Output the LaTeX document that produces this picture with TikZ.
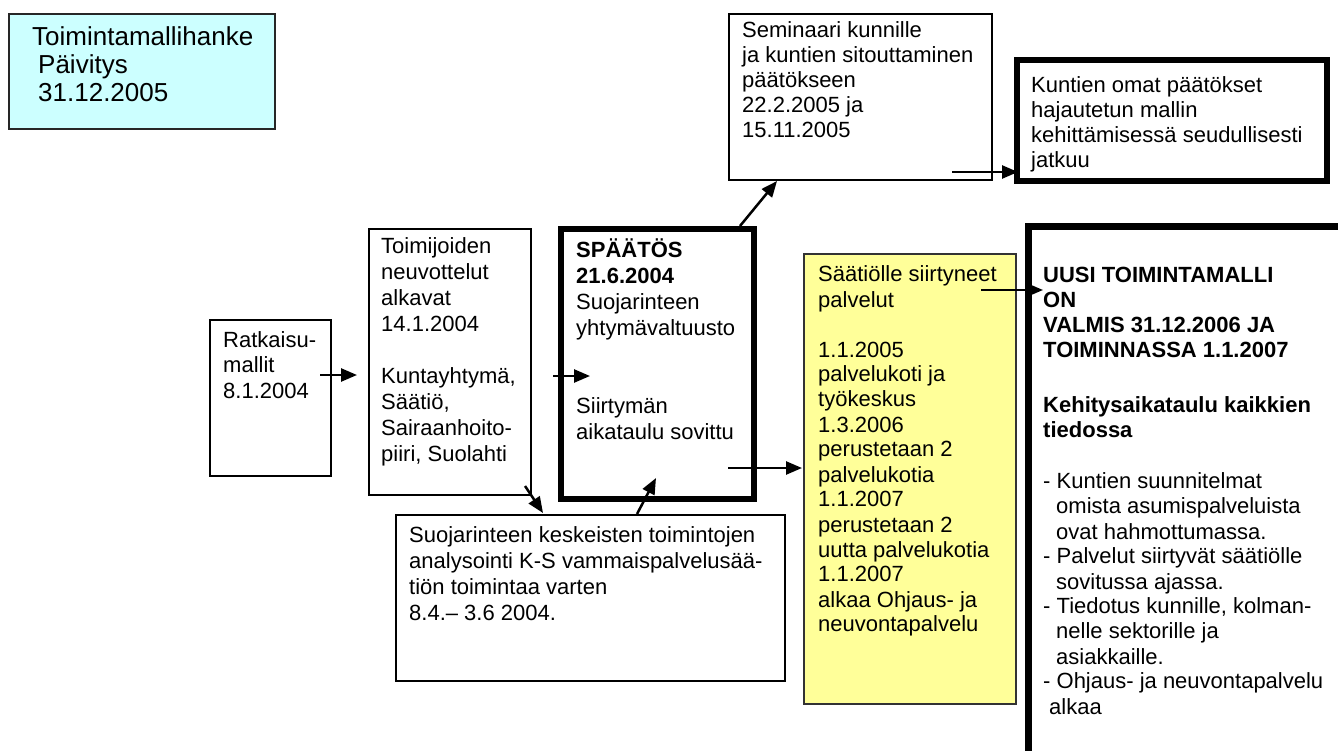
\documentclass[tikz,border=0pt]{standalone}
\usepackage{fontspec}
\setmainfont{Liberation Sans}
\usetikzlibrary{arrows.meta}
\definecolor{cyanbox}{HTML}{CCFFFF}
\definecolor{yellowbox}{HTML}{FFFF99}
\begin{document}
\begin{tikzpicture}[x=1pt,y=-1pt,
  box/.style={draw=black, line width=1.5pt, anchor=north west, inner sep=0pt, outer sep=0pt},
  heavybox/.style={draw=black, line width=6pt, anchor=north west, inner sep=0pt, outer sep=0pt},
  txt/.style={anchor=base west, inner sep=0pt, font=\fontsize{22}{25}\selectfont},
  arr/.style={line width=2.5pt, -{Triangle[length=16pt,width=13pt]}}]
\useasboundingbox (0,0) rectangle (1338,751);
\fill[white] (0,0) rectangle (1338,751);
\clip (0,0) rectangle (1338,751);

% title box
\node[box, fill=cyanbox, draw=black!85, minimum width=266pt, minimum height=115pt] (title) at (9,14) {};
\node[anchor=base west, inner sep=0pt, font=\fontsize{26}{28}\selectfont] (titleT) at (32,46)
  {\parbox[t]{250pt}{Toimintamallihanke\\\hspace*{6pt}Päivitys\\\hspace*{6pt}31.12.2005}};

% Ratkaisumallit
\node[box, minimum width=121pt, minimum height=156pt] (rat) at (210,320) {};
\node[txt, font=\fontsize{22}{25.5}\selectfont] (ratT) at (223,347) {\parbox[t]{110pt}{Ratkaisu-\\mallit\\8.1.2004}};

% Toimijoiden neuvottelut
\node[box, minimum width=162pt, minimum height=266pt] (toi) at (369,229) {};
\node[txt, font=\fontsize{22}{26}\selectfont] (toiT) at (381,254) {\parbox[t]{150pt}{Toimijoiden\\neuvottelut\\alkavat\\14.1.2004\\\mbox{}\\Kuntayhtymä,\\Säätiö,\\Sairaanhoito-\\piiri, Suolahti}};

% SPÄÄTÖS
\node[heavybox, minimum width=193pt, minimum height=270pt] (spa) at (561,229) {};
\node[txt, font=\fontsize{22}{26}\selectfont] (spaT) at (576,258) {\parbox[t]{180pt}{\textbf{SPÄÄTÖS}\\\textbf{21.6.2004}\\Suojarinteen\\yhtymävaltuusto\\\mbox{}\\\mbox{}\\Siirtymän\\aikataulu sovittu}};

% Suojarinteen analysointi
\node[box, minimum width=389pt, minimum height=166pt] (suo) at (396,515) {};
\node[txt, font=\fontsize{22}{26}\selectfont] (suoT) at (409,542) {\parbox[t]{370pt}{Suojarinteen keskeisten toimintojen\\analysointi K-S vammaispalvelusää-\\tiön toimintaa varten\\8.4.– 3.6 2004.}};

% Seminaari
\node[box, minimum width=263pt, minimum height=166pt] (sem) at (729,14) {};
\node[txt] (semT) at (742,38) {\parbox[t]{250pt}{Seminaari kunnille\\ja kuntien sitouttaminen\\päätökseen\\22.2.2005 ja\\15.11.2005}};

% Kuntien omat päätökset
\node[heavybox, minimum width=310pt, minimum height=121pt] (kun) at (1017,60) {};
\node[txt] (kunT) at (1031,93) {\parbox[t]{295pt}{Kuntien omat päätökset\\hajautetun mallin\\kehittämisessä seudullisesti\\jatkuu}};

% yellow box
\node[box, fill=yellowbox, draw=black!80, line width=2pt, minimum width=212pt, minimum height=450pt] (yel) at (804,254) {};
\node[txt, font=\fontsize{22}{25}\selectfont] (yelT) at (818,282) {\parbox[t]{195pt}{Säätiölle siirtyneet\\palvelut\\\mbox{}\\1.1.2005\\palvelukoti ja\\työkeskus\\1.3.2006\\perustetaan 2\\palvelukotia\\1.1.2007\\perustetaan 2\\uutta palvelukotia\\1.1.2007\\alkaa Ohjaus- ja\\neuvontapalvelu}};

% big box
\node[draw=black, line width=7pt, anchor=north west, inner sep=0pt, outer sep=0pt, minimum width=400pt, minimum height=600pt] (big) at (1028.5,226.5) {};
\node[txt] (bigT) at (1043,283) {\parbox[t]{300pt}{\textbf{UUSI TOIMINTAMALLI}\\\textbf{ON}\\\textbf{VALMIS 31.12.2006 JA}\\\textbf{TOIMINNASSA 1.1.2007}\\[30pt]\textbf{Kehitysaikataulu kaikkien}\\\textbf{tiedossa}\\[26pt]- Kuntien suunnitelmat\\\hspace*{13pt}omista asumispalveluista\\\hspace*{13pt}ovat hahmottumassa.\\- Palvelut siirtyvät säätiölle\\\hspace*{13pt}sovitussa ajassa.\\- Tiedotus kunnille, kolman-\\\hspace*{13pt}nelle sektorille ja\\\hspace*{13pt}asiakkaille.\\- Ohjaus- ja neuvontapalvelu\\\hspace*{6pt}alkaa}};

% connector end points
\coordinate (a1s) at (320,375);  \coordinate (a1e) at (357,375);
\coordinate (a2s) at (553,376);  \coordinate (a2e) at (590,376);
\coordinate (a3s) at (525,486);  \coordinate (a3e) at (543,513);
\coordinate (a4s) at (637,514);  \coordinate (a4e) at (656,478);
\coordinate (a5s) at (740,226);  \coordinate (a5e) at (777,181);
\coordinate (a6s) at (952,172);  \coordinate (a6e) at (1018,172);
\coordinate (a7s) at (728,468);  \coordinate (a7e) at (802,468);
\coordinate (a8s) at (981,290);  \coordinate (a8e) at (1043,290);

\draw[arr] (a1s) -- (a1e);
\draw[arr] (a2s) -- (a2e);
\draw[arr] (a3s) -- (a3e);
\draw[arr] (a4s) -- (a4e);
\draw[arr] (a5s) -- (a5e);
\draw[arr] (a6s) -- (a6e);
\draw[arr] (a7s) -- (a7e);
\draw[arr] (a8s) -- (a8e);
\end{tikzpicture}
\end{document}
